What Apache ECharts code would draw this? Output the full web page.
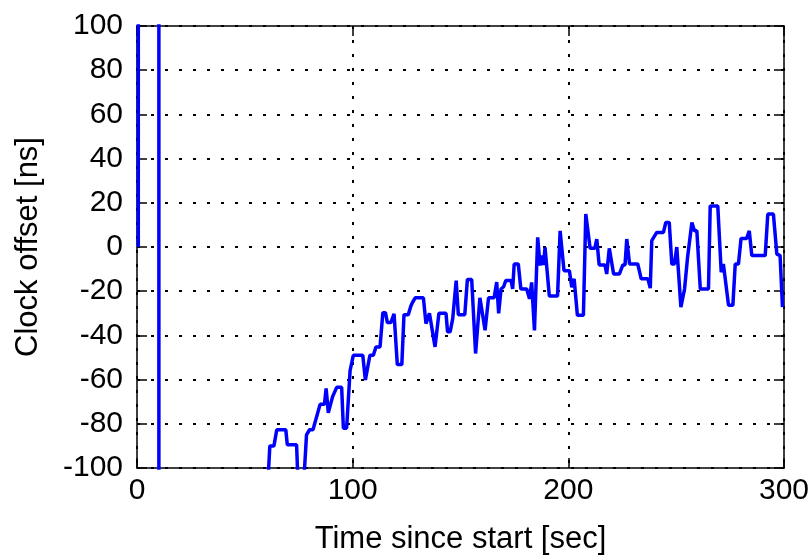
<!DOCTYPE html>
<html>
<head>
<meta charset="utf-8">
<script src="https://cdn.jsdelivr.net/npm/echarts@6/dist/echarts.min.js"></script>
<style>html,body{margin:0;padding:0;background:#fff}#c{width:812px;height:560px}</style>
</head>
<body>
<div id="c"></div>
<script>
// Time since start [sec]
var times = [0.6, 0.7, 10.1, 10.2, 60.5,
  61.6, 63.5, 64.8, 69, 69.7, 74, 74.6, 77.4, 78.6, 80, 81.6, 84.9, 86.9, 87.7, 88.7, 90.7,
  92.6, 94.9, 95.7, 97.2, 98.8, 100.3, 104.7, 105.9, 106.5, 108, 109.6, 110.8, 112.7, 114,
  115.2, 116.1, 117.7, 119.2, 120.7, 122.8, 123.8, 125.8, 127, 127.8, 129, 132.8, 134, 135.6,
  138.2, 140, 143.3, 144, 145.2, 146.4, 148, 149, 152, 153.2, 155.2, 157, 159, 159.9, 161.4,
  163, 165.6, 166.8, 167.7, 168.8, 170, 171, 173.5, 174.2, 174.9, 176.8, 178, 180.7, 182, 183,
  184.3, 185, 185.8, 186.9, 187.7, 188.5, 189.2, 190, 191.2, 195, 196.2, 197, 198, 200.5,
  201.6, 202.7, 204.2, 207, 208.1, 208.9, 210.1, 212.3, 213.2, 214.3, 217, 217.8, 219, 219.7,
  221, 223.7, 225.3, 226.3, 227.1, 228.4, 232.2, 233.8, 236.9, 238, 238.7, 241, 244.1, 245.2,
  246.8, 248, 249.2, 250.3, 252.2, 253.9, 255.3, 257.3, 258.5, 259.6, 261.2, 265, 265.8,
  269.3, 270.9, 271.9, 272.7, 274.3, 276.3, 277.4, 278.9, 280.1, 282.7, 283.9, 285.1, 291.3,
  292.5, 295.1, 296.7, 298.2, 299.3];
// Clock offset [ns]
var offsets = [0, 2000, 2000, -2000, -110,
  -90, -90, -82.7, -82.7, -89.5, -89.5, -105, -105, -85, -82.7, -82.7, -71.2, -71.2, -64, -75, -67.7,
  -63.5, -63.5, -82, -82, -56, -49, -49, -60.2, -60.2, -49, -49, -45.2, -45.2, -29.7,
  -29.7, -34.2, -34.2, -30.2, -53.2, -53.2, -30.6, -30.6, -26.7, -25, -23, -23, -34.7, -30,
  -45.2, -30, -30, -38.4, -38.4, -32.4, -15.2, -30.6, -30.6, -14.7, -14.7, -48.2, -23, -23, -37.7,
  -23, -23, -15.9, -30, -19, -18, -15.2, -15.2, -19, -7.7, -7.7, -19, -19, -23.4, -16,
  -37.7, -37.7, 4.4, -8.4, -3.9, -8.1, -0.2, -0.2, -22.2, -22.2, 7.3, 7.3, -10.7, -10.7,
  -18.2, -14.4, -30.9, -30.9, 14.9, 14.9, -0.6, -0.6, 3.6, -8.1, -8.1, -12.2, -0.6, 0,
  -12.2, -12.2, -8.1, -8.1, 3.6, -7.7, -7.7, -14.4, -14.4, -18.6, 2.9, 6.6, 6.6, 11.1,
  11.1, -7.7, -7.7, 0, -27.2, -19, -4.6, 11.1, 7.3, 7.3, -19, -19, 18.6,
  18.6, -11.4, -7.7, -7.7, -26.4, -26.4, -7.7, -7.7, 3.9, 3.9, 7.3, -3.9, -3.9,
  14.9, 14.9, -3.2, -3.9, -27.2];
var xTicks = [0, 100, 200, 300];
var yTicks = [-100, -80, -60, -40, -20, 0, 20, 40, 60, 80, 100];

var data = times.map(function (t, i) { return [t, offsets[i]]; });
var font = 'Liberation Sans, Arial, Helvetica, sans-serif';
var tickStyle = { show: true, inside: true, length: 10, lineStyle: { color: '#000', width: 1.5 } };
var axisLine = { show: true, onZero: false, lineStyle: { color: '#000', width: 1.5 } };
var grid = { type: [3, 11], color: '#000', width: 2 };

var chart = echarts.init(document.getElementById('c'), null, { renderer: 'canvas' });
chart.setOption({
  animation: false,
  backgroundColor: '#fff',
  grid: { left: 137, right: 28, top: 26, bottom: 90, show: false },
  xAxis: [{
    type: 'value', min: xTicks[0], max: xTicks[xTicks.length - 1], interval: 100,
    position: 'bottom',
    name: 'Time since start [sec]', nameLocation: 'middle', nameGap: 56,
    nameTextStyle: { color: '#000', fontSize: 31, fontFamily: font },
    axisLine: axisLine, axisTick: tickStyle,
    axisLabel: { color: '#000', fontSize: 30, fontFamily: font, margin: 8 },
    splitLine: { show: true, lineStyle: grid }
  }, {
    type: 'value', min: xTicks[0], max: xTicks[xTicks.length - 1], interval: 100,
    position: 'top',
    axisLine: axisLine, axisTick: tickStyle, axisLabel: { show: false }, splitLine: { show: false }
  }],
  yAxis: [{
    type: 'value', min: yTicks[0], max: yTicks[yTicks.length - 1], interval: 20,
    position: 'left',
    name: 'Clock offset [ns]', nameLocation: 'middle', nameGap: 93,
    nameTextStyle: { color: '#000', fontSize: 31, fontFamily: font },
    axisLine: axisLine, axisTick: tickStyle,
    axisLabel: { color: '#000', fontSize: 30, fontFamily: font, margin: 14 },
    splitLine: { show: true, lineStyle: grid }
  }, {
    type: 'value', min: yTicks[0], max: yTicks[yTicks.length - 1], interval: 20,
    position: 'right',
    axisLine: axisLine, axisTick: tickStyle, axisLabel: { show: false }, splitLine: { show: false }
  }],
  series: [{
    type: 'line', data: data, showSymbol: false, symbol: 'none', clip: true,
    lineStyle: { color: '#0000ff', width: 3.5 }, z: 5
  }]
});
</script>
</body>
</html>
